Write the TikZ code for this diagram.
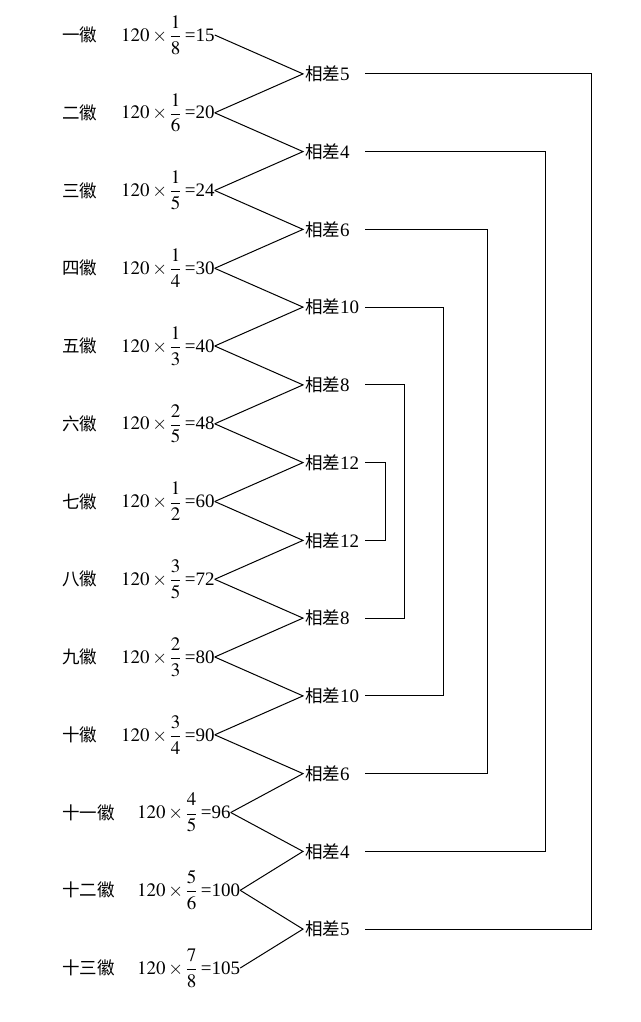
\documentclass[tikz,border=0pt]{standalone}
\usepackage{mathptmx}
\usepackage{amsmath}
\usepackage{fontspec}
\setmainfont{Liberation Serif}
\newfontfamily\cjk{Noto Sans CJK SC}
\usepackage{tikz}
\newcommand{\cjtext}[1]{{\fontsize{17.5}{20}\selectfont\cjk #1}}

\tikzset{
  hui/.style={anchor=west, inner sep=0pt, font=\fontsize{17.5}{20}\selectfont\cjk},
  val/.style={anchor=west, inner sep=0pt, font=\fontsize{19}{22}\selectfont},
  diff/.style={anchor=west, inner ysep=0pt, inner xsep=2pt, text width=58pt, align=left, font=\fontsize{19}{22}\selectfont},
  link/.style={line width=1pt},
}

\begin{document}
\begin{tikzpicture}[x=1pt, y=-1pt]
  \useasboundingbox (0,0) rectangle (640,1022);

  % the thirteen hui
  \node[hui] (h1) at (62,35) {一徽};
  \node[hui] (h2) at (62,112.8) {二徽};
  \node[hui] (h3) at (62,190.5) {三徽};
  \node[hui] (h4) at (62,268.3) {四徽};
  \node[hui] (h5) at (62,346) {五徽};
  \node[hui] (h6) at (62,423.8) {六徽};
  \node[hui] (h7) at (62,501.5) {七徽};
  \node[hui] (h8) at (62,579.3) {八徽};
  \node[hui] (h9) at (62,657) {九徽};
  \node[hui] (h10) at (62,734.8) {十徽};
  \node[hui] (h11) at (62,812.5) {十一徽};
  \node[hui] (h12) at (62,890.3) {十二徽};
  \node[hui] (h13) at (62,968) {十三徽};

  \node[val] (v1) at (121,35) {$120\times\dfrac{1}{8}$\,=15};
  \node[val] (v2) at (121,112.8) {$120\times\dfrac{1}{6}$\,=20};
  \node[val] (v3) at (121,190.5) {$120\times\dfrac{1}{5}$\,=24};
  \node[val] (v4) at (121,268.3) {$120\times\dfrac{1}{4}$\,=30};
  \node[val] (v5) at (121,346) {$120\times\dfrac{1}{3}$\,=40};
  \node[val] (v6) at (121,423.8) {$120\times\dfrac{2}{5}$\,=48};
  \node[val] (v7) at (121,501.5) {$120\times\dfrac{1}{2}$\,=60};
  \node[val] (v8) at (121,579.3) {$120\times\dfrac{3}{5}$\,=72};
  \node[val] (v9) at (121,657) {$120\times\dfrac{2}{3}$\,=80};
  \node[val] (v10) at (121,734.8) {$120\times\dfrac{3}{4}$\,=90};
  \node[val] (v11) at (137,812.5) {$120\times\dfrac{4}{5}$\,=96};
  \node[val] (v12) at (137,890.3) {$120\times\dfrac{5}{6}$\,=100};
  \node[val] (v13) at (137,968) {$120\times\dfrac{7}{8}$\,=105};

  % differences
  \node[diff] (d1) at (303,73.9) {\cjtext{相差}5};
  \node[diff] (d2) at (303,151.6) {\cjtext{相差}4};
  \node[diff] (d3) at (303,229.4) {\cjtext{相差}6};
  \node[diff] (d4) at (303,307.1) {\cjtext{相差}10};
  \node[diff] (d5) at (303,384.9) {\cjtext{相差}8};
  \node[diff] (d6) at (303,462.6) {\cjtext{相差}12};
  \node[diff] (d7) at (303,540.4) {\cjtext{相差}12};
  \node[diff] (d8) at (303,618.1) {\cjtext{相差}8};
  \node[diff] (d9) at (303,695.9) {\cjtext{相差}10};
  \node[diff] (d10) at (303,773.6) {\cjtext{相差}6};
  \node[diff] (d11) at (303,851.4) {\cjtext{相差}4};
  \node[diff] (d12) at (303,929.1) {\cjtext{相差}5};

  \draw[link] (v1.east) -- (d1.west) -- (v2.east);
  \draw[link] (v2.east) -- (d2.west) -- (v3.east);
  \draw[link] (v3.east) -- (d3.west) -- (v4.east);
  \draw[link] (v4.east) -- (d4.west) -- (v5.east);
  \draw[link] (v5.east) -- (d5.west) -- (v6.east);
  \draw[link] (v6.east) -- (d6.west) -- (v7.east);
  \draw[link] (v7.east) -- (d7.west) -- (v8.east);
  \draw[link] (v8.east) -- (d8.west) -- (v9.east);
  \draw[link] (v9.east) -- (d9.west) -- (v10.east);
  \draw[link] (v10.east) -- (d10.west) -- (v11.east);
  \draw[link] (v11.east) -- (d11.west) -- (v12.east);
  \draw[link] (v12.east) -- (d12.west) -- (v13.east);

  % brackets pairing equal differences
  \coordinate (r1) at (591,0);
  \coordinate (r2) at (545,0);
  \coordinate (r3) at (487,0);
  \coordinate (r4) at (443,0);
  \coordinate (r5) at (404,0);
  \coordinate (r6) at (385,0);
  \draw[link] (d1.east) -- (d1.east -| r1) |- (d12.east);
  \draw[link] (d2.east) -- (d2.east -| r2) |- (d11.east);
  \draw[link] (d3.east) -- (d3.east -| r3) |- (d10.east);
  \draw[link] (d4.east) -- (d4.east -| r4) |- (d9.east);
  \draw[link] (d5.east) -- (d5.east -| r5) |- (d8.east);
  \draw[link] (d6.east) -- (d6.east -| r6) |- (d7.east);
\end{tikzpicture}
\end{document}
